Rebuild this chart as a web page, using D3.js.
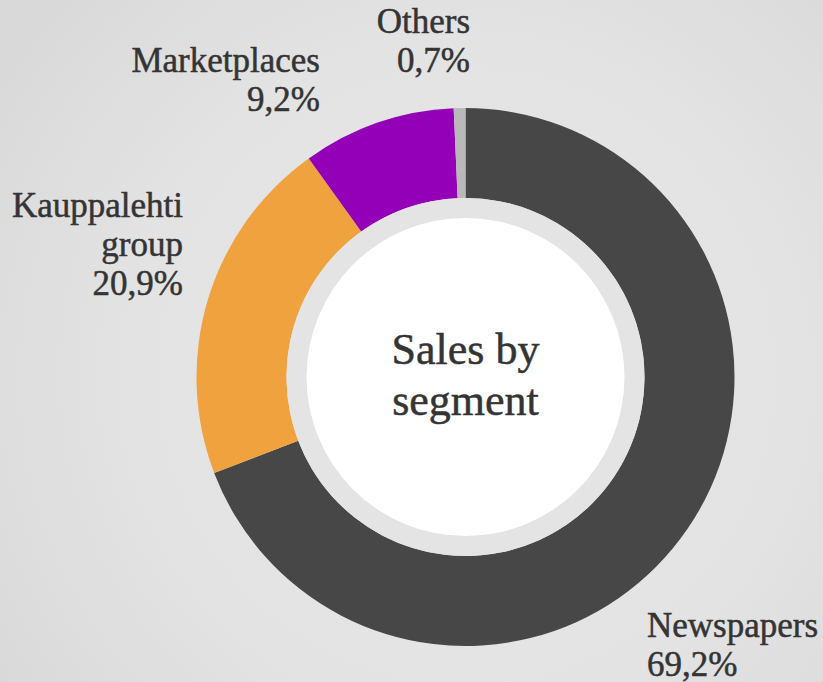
<!DOCTYPE html>
<html>
<head>
<meta charset="utf-8">
<script src="https://cdn.jsdelivr.net/npm/d3@7"></script>
<style>
  html, body { margin: 0; padding: 0; background: #e2e2e2; }
  svg { display: block; }
  text { font-family: "Liberation Serif", "DejaVu Serif", serif; fill: #343434; stroke: #343434; stroke-width: 0.5px; }
</style>
</head>
<body>
<div id="chart"></div>
<script>
// ---- data ----
const categories = ["Newspapers", "Kauppalehti group", "Marketplaces", "Others"];
const values = [69.2, 20.9, 9.2, 0.7];
const labelLines = [["Newspapers"], ["Kauppalehti", "group"], ["Marketplaces"], ["Others"]];
const centerTitle = ["Sales by", "segment"];

// ---- styles / layout ----
const colors = ["#474747", "#f0a23e", "#9400b7", "#b9b9b9"];
const W = 823, H = 682;
const cx = 465.5, cy = 377;
const outerR = 269, innerR = 179, whiteR = 159;
const labelLayout = [
  { x: 647, y: 637, anchor: "start" },
  { x: 183, y: 217, anchor: "end" },
  { x: 320, y: 72, anchor: "end" },
  { x: 470, y: 33, anchor: "end" }
];
const lineGap = 38.8;

const svg = d3.select("#chart").append("svg")
  .attr("width", W).attr("height", H);

const defs = svg.append("defs");
const grad = defs.append("radialGradient").attr("id", "bg")
  .attr("gradientUnits", "userSpaceOnUse")
  .attr("cx", cx).attr("cy", cy).attr("r", 560);
grad.append("stop").attr("offset", "0%").attr("stop-color", "#e7e7e7");
grad.append("stop").attr("offset", "60%").attr("stop-color", "#e3e3e3");
grad.append("stop").attr("offset", "100%").attr("stop-color", "#d9d9d9");

svg.append("rect").attr("width", W).attr("height", H).attr("fill", "url(#bg)");

const g = svg.append("g").attr("transform", `translate(${cx},${cy})`);

const pie = d3.pie().sort(null).value(d => d).startAngle(0).endAngle(2 * Math.PI);
const arc = d3.arc().innerRadius(innerR).outerRadius(outerR);
const arcs = pie(values);

g.selectAll("path.slice").data(arcs).join("path")
  .attr("class", "slice")
  .attr("d", arc)
  .attr("fill", (d, i) => colors[i]);

g.append("circle").attr("r", innerR).attr("fill", "#e4e4e4");
g.append("circle").attr("r", whiteR).attr("fill", "#ffffff");

// center title
g.selectAll("text.title").data(centerTitle).join("text")
  .attr("class", "title")
  .attr("text-anchor", "middle")
  .attr("x", 0)
  .attr("y", (d, i) => -13 + i * 51)
  .attr("font-size", 44)
  .text(d => d);

// labels
const fmt = v => v.toFixed(1).replace(".", ",") + "%";
labelLines.forEach((lines, i) => {
  const L = labelLayout[i];
  const t = svg.append("text")
    .attr("text-anchor", L.anchor)
    .attr("font-size", 35);
  const all = lines.concat([fmt(values[i])]);
  all.forEach((s, k) => {
    t.append("tspan").attr("x", L.x).attr("y", L.y + k * lineGap).text(s);
  });
});
</script>
</body>
</html>
